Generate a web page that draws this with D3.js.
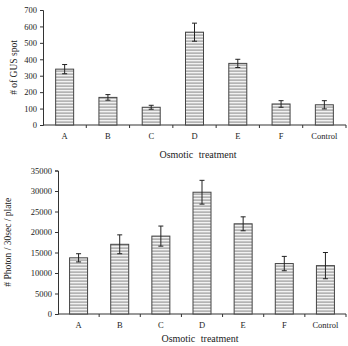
<!DOCTYPE html>
<html lang="en">
<head>
  <meta charset="UTF-8">
  <title>Osmotic treatment</title>
  <script src="https://d3js.org/d3.v7.min.js"></script>
  <style>
    body { margin: 0; padding: 0; background: #fff; }
    svg { display: block; font-family: "Liberation Serif", "Times New Roman", serif; }
  </style>
</head>
<body>
  <svg id="chart" width="348" height="346"></svg>
  <script>
    const categories = ["A", "B", "C", "D", "E", "F", "Control"];

    // top panel: GUS spots
    const gusValues = [340, 168, 108, 565, 375, 128, 123];
    const gusErrors = [28, 17, 12, 55, 25, 20, 25];
    const gusTicks = [0, 100, 200, 300, 400, 500, 600, 700];

    // bottom panel: photon counts
    const photonValues = [13700, 17000, 19000, 29700, 22000, 12300, 11800];
    const photonErrors = [1000, 2300, 2450, 2900, 1700, 1750, 3200];
    const photonTicks = [0, 5000, 10000, 15000, 20000, 25000, 30000, 35000];

    const svg = d3.select("#chart");

    // horizontal stripe fill
    const pat = svg.append("defs").append("pattern")
      .attr("id", "stripes")
      .attr("patternUnits", "userSpaceOnUse")
      .attr("width", 6).attr("height", 3);
    pat.append("rect").attr("width", 6).attr("height", 3).attr("fill", "#f2f2f2");
    pat.append("rect").attr("y", 1.5).attr("width", 6).attr("height", 1.2).attr("fill", "#9a9a9a");

    function panel(opts) {
      const g = svg.append("g");
      const x = d3.scaleBand().domain(categories).range([opts.left, opts.right]);
      const y = d3.scaleLinear().domain([0, opts.max]).range([opts.bottom, opts.top]);

      // y axis
      const yAxis = g.append("g")
        .attr("transform", `translate(${opts.left},0)`)
        .call(d3.axisLeft(y).tickValues(opts.ticks).tickFormat(d3.format("d"))
          .tickSize(3).tickPadding(3));
      yAxis.select(".domain").attr("stroke", "#333");
      yAxis.selectAll(".tick line").attr("stroke", "#333");
      yAxis.selectAll("text").attr("font-size", 8.5).attr("fill", "#222")
        .attr("font-family", "Liberation Serif");

      // x axis line with ticks between categories
      g.append("line")
        .attr("x1", opts.left).attr("x2", opts.right)
        .attr("y1", opts.bottom).attr("y2", opts.bottom)
        .attr("stroke", "#333");
      g.selectAll(".sep").data(categories.slice(1)).join("line")
        .attr("x1", d => x(d)).attr("x2", d => x(d))
        .attr("y1", opts.bottom).attr("y2", opts.bottom + 3)
        .attr("stroke", "#333");
      g.append("line")
        .attr("x1", opts.right).attr("x2", opts.right)
        .attr("y1", opts.bottom).attr("y2", opts.bottom + 3)
        .attr("stroke", "#333");

      const bw = 18;
      g.selectAll(".bar").data(categories).join("rect")
        .attr("x", d => x(d) + x.bandwidth() / 2 - bw / 2)
        .attr("width", bw)
        .attr("y", (d, i) => y(opts.values[i]))
        .attr("height", (d, i) => opts.bottom - y(opts.values[i]))
        .attr("fill", "url(#stripes)")
        .attr("stroke", "#444").attr("stroke-width", 1);

      // error bars
      const eg = g.selectAll(".err").data(categories).join("g")
        .attr("stroke", "#222").attr("stroke-width", 1);
      eg.append("line")
        .attr("x1", d => x(d) + x.bandwidth() / 2).attr("x2", d => x(d) + x.bandwidth() / 2)
        .attr("y1", (d, i) => y(opts.values[i] - opts.errors[i]))
        .attr("y2", (d, i) => y(opts.values[i] + opts.errors[i]));
      [1, -1].forEach(s => {
        eg.append("line")
          .attr("x1", d => x(d) + x.bandwidth() / 2 - 2.5).attr("x2", d => x(d) + x.bandwidth() / 2 + 2.5)
          .attr("y1", (d, i) => y(opts.values[i] + s * opts.errors[i]))
          .attr("y2", (d, i) => y(opts.values[i] + s * opts.errors[i]));
      });

      // category labels
      g.selectAll(".cat").data(categories).join("text")
        .attr("x", d => x(d) + x.bandwidth() / 2)
        .attr("y", opts.bottom + 13.5)
        .attr("text-anchor", "middle")
        .attr("font-size", 8.5).attr("fill", "#222")
        .text(d => d);

      g.append("text")
        .attr("x", opts.titleX).attr("y", opts.titleY)
        .attr("text-anchor", "middle")
        .attr("font-size", 10).attr("fill", "#222")
        .attr("word-spacing", 3)
        .text("Osmotic treatment");

      g.append("text")
        .attr("transform", `translate(${opts.labelX},${(opts.top + opts.bottom) / 2}) rotate(-90)`)
        .attr("text-anchor", "middle")
        .attr("font-size", 9.5).attr("fill", "#222")
        .text(opts.yLabel);
    }

    panel({
      left: 43, right: 346, top: 10, bottom: 125, max: 700,
      ticks: gusTicks, values: gusValues, errors: gusErrors,
      titleX: 198, titleY: 158, labelX: 17, yLabel: "# of GUS spot"
    });

    panel({
      left: 58, right: 346, top: 170.5, bottom: 314, max: 35000,
      ticks: photonTicks, values: photonValues, errors: photonErrors,
      titleX: 200, titleY: 342, labelX: 11, yLabel: "# Photon / 30sec / plate"
    });
  </script>
</body>
</html>
